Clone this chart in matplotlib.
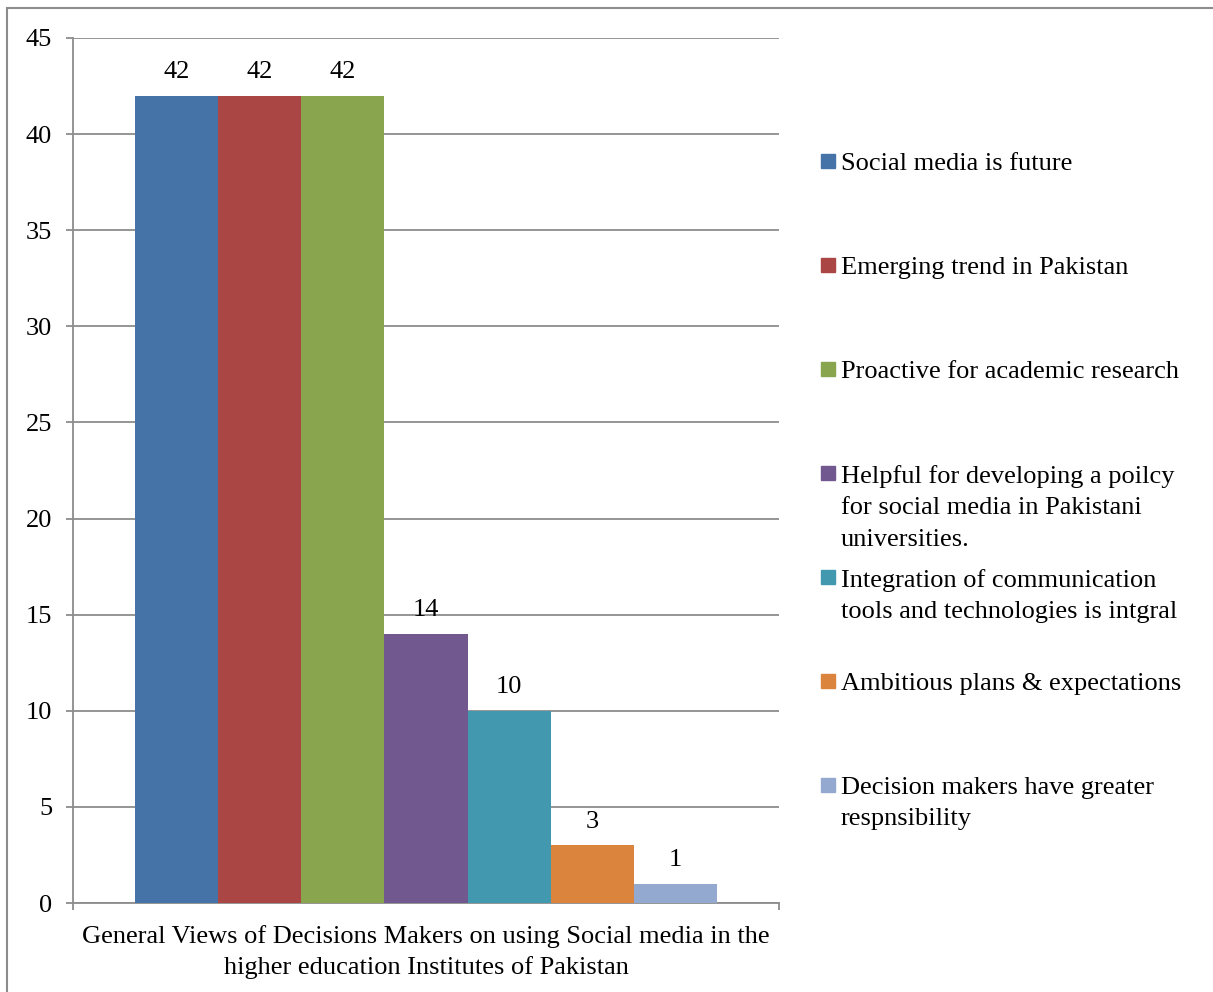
import matplotlib
matplotlib.use("Agg")
import matplotlib.pyplot as plt
from matplotlib.patches import Rectangle

plt.rcParams['font.family'] = ['Liberation Serif', 'DejaVu Serif']
plt.rcParams['font.size'] = 19

# data
labels = [
    "Social media is future",
    "Emerging trend in Pakistan",
    "Proactive for academic research",
    "Helpful for developing a poilcy\nfor social media in Pakistani\nuniversities.",
    "Integration of communication\ntools and technologies is intgral",
    "Ambitious plans & expectations",
    "Decision makers have greater\nrespnsibility",
]
values = [42, 42, 42, 14, 10, 3, 1]
colors = ["#4572A7", "#AA4643", "#89A54E", "#71588F", "#4198AF", "#DB843D", "#93A9CF"]
category = "General Views of Decisions Makers on using Social media in the\nhigher education Institutes of Pakistan"

W, H = 1213, 992
fig = plt.figure(figsize=(W / 100, H / 100), dpi=100)
ax = fig.add_axes([73 / W, 1 - 903 / H, (779 - 73) / W, (903 - 38) / H])

grey = "#8c8c8c"
n = len(values)
group = 0.824
bw = group / n
for i, (v, c) in enumerate(zip(values, colors)):
    x = -group / 2 + (i + 0.5) * bw
    ax.bar(x, v, width=bw, color=c, zorder=3, linewidth=0)
    ax.annotate(str(v), (x, v), xytext=(0, 17), textcoords="offset points",
                ha="center", va="center")

ax.set_xlim(-0.5, 0.5)
ax.set_ylim(0, 45)
ax.set_yticks(range(0, 46, 5))
ax.yaxis.grid(True, color=grey, linewidth=1.3, zorder=0)
ax.set_axisbelow(True)
ax.set_xticks([0])
ax.set_xticklabels([category], linespacing=1.42)
ax.set_xticks([-0.5, 0.5], minor=True)
ax.tick_params(axis="x", which="major", length=0, pad=16)
ax.tick_params(axis="x", which="minor", length=5, color=grey, width=1.3, direction="out")
ax.tick_params(axis="y", length=5, color=grey, width=1.3, pad=10)
for s in ["top", "right"]:
    ax.spines[s].set_visible(False)
for s in ["left", "bottom"]:
    ax.spines[s].set_color(grey)
    ax.spines[s].set_linewidth(1.3)

# legend drawn by hand so the marker sits on the first line
for k, (lab, c) in enumerate(zip(labels, colors)):
    yc = 161 + 104 * k
    fig.patches.append(Rectangle((821 / W, 1 - (yc + 7) / H), 14 / W, 14 / H,
                                 transform=fig.transFigure, color=c))
    fig.text(841 / W, 1 - (yc - 8) / H, lab, ha="left", va="top", linespacing=1.55)

# outer border
fig.patches.append(Rectangle((7 / W, -0.1), 1.2, 1 - 8 / H + 0.1, transform=fig.transFigure,
                             fill=False, edgecolor=grey, linewidth=1.5))

fig.savefig("out.png", dpi=100)
